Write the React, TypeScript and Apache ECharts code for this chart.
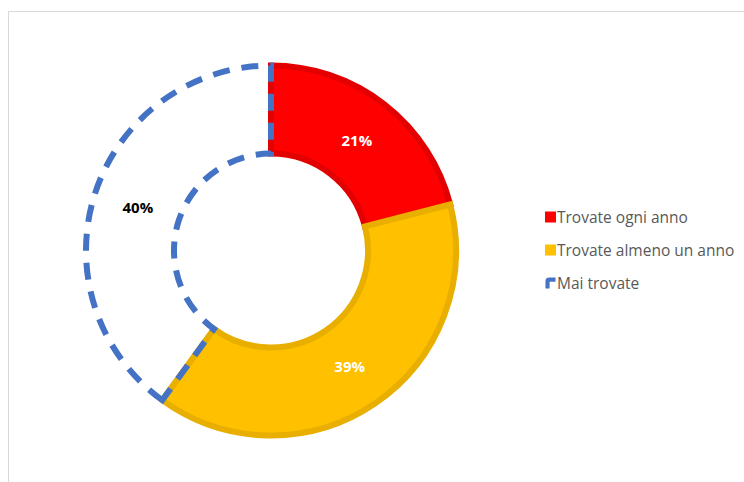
import React, { useEffect, useRef } from "react";
import * as echarts from "echarts";

const categories = ["Trovate ogni anno", "Trovate almeno un anno", "Mai trovate"];
const values = [21, 39, 40];
const fillColors = ["#FF0000", "#FFC000", "rgba(255,255,255,0)"];
const borderColors = ["#E20000", "#E8AE00", "#4472C4"];
const labelColors = ["#FFFFFF", "#FFFFFF", "#000000"];

export default function App() {
  const ref = useRef<HTMLDivElement>(null);
  useEffect(() => {
    if (!ref.current) return;
    const chart = echarts.init(ref.current, undefined, { renderer: "svg" });
    const data = categories.map((name, i) => ({
      name,
      value: values[i],
      itemStyle: {
        color: fillColors[i],
        borderColor: borderColors[i],
        borderWidth: 6,
        borderType: i === 2 ? [17, 12] : "solid",
        borderJoin: "miter",
      },
    }));
    const labelData = categories.map((name, i) => ({
      name,
      value: values[i],
      label: { color: labelColors[i] },
    }));
    chart.setOption({
      animation: false,
      backgroundColor: "#FFFFFF",
      graphic: [
        { type: "line", shape: { x1: 8, y1: 11.5, x2: 744, y2: 11.5 }, style: { stroke: "#D9D9D9", lineWidth: 1 } },
        { type: "line", shape: { x1: 8.5, y1: 11, x2: 8.5, y2: 482 }, style: { stroke: "#D9D9D9", lineWidth: 1 } },
      ],
      legend: {
        orient: "vertical",
        left: 540,
        top: 204,
        itemWidth: 11,
        itemHeight: 11,
        itemGap: 17,
        textStyle: { fontFamily: "Open Sans", fontSize: 15.5, color: "#595959", padding: [0, 0, 0, -4] },
        data: categories.map((name, i) => ({
          name,
          icon: i === 2 ? "path://M0,4 Q0,0 4,0 L11,0 L11,4.5 L4.5,4.5 L4.5,12 L0,12 Z" : "rect",
          itemStyle: { color: i === 2 ? borderColors[2] : fillColors[i], borderWidth: 0 },
        })),
      },
      series: [
        {
          type: "pie",
          center: [271, 250.5],
          radius: [97, 185],
          startAngle: 90,
          clockwise: true,
          label: { show: false },
          labelLine: { show: false },
          emphasis: { disabled: true },
          silent: true,
          data,
        },
        {
          type: "pie",
          center: [271, 250.5],
          radius: [89, 185],
          startAngle: 90,
          clockwise: true,
          avoidLabelOverlap: false,
          itemStyle: { color: "rgba(0,0,0,0)", borderWidth: 0 },
          label: {
            show: true,
            position: "inside",
            formatter: "{d}%",
            fontFamily: "Open Sans",
            fontWeight: "bold",
            fontSize: 15,
          },
          labelLine: { show: false },
          emphasis: { disabled: true },
          silent: true,
          legendHoverLink: false,
          data: labelData,
        },
      ],
    });
    return () => chart.dispose();
  }, []);
  return <div ref={ref} style={{ position: "fixed", left: 0, top: 0, width: 744, height: 482 }} />;
}
